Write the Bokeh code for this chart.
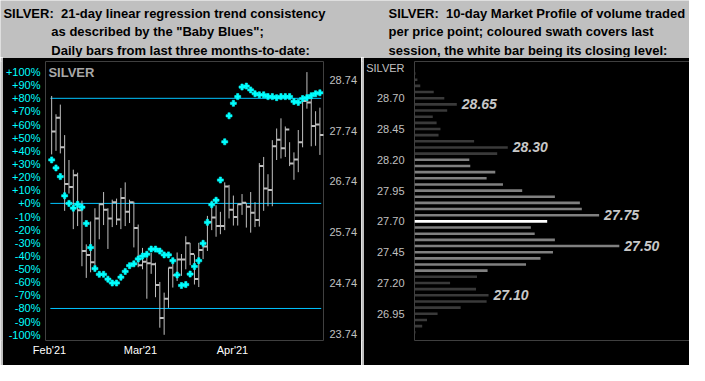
from bokeh.plotting import figure
from bokeh.layouts import column, row
from bokeh.models import Range1d, LinearAxis, FixedTicker, Label, ColumnDataSource
from bokeh.core.properties import value
from bokeh.embed import file_html
from bokeh.resources import INLINE

# ---------------- data ----------------
highs = [28.42, 28.06, 28.25, 27.65, 27.16, 26.97, 26.91, 26.36, 25.50, 25.95, 26.21, 26.30, 26.53, 26.21,
         26.38, 26.40, 26.61, 26.72, 26.38, 26.34, 25.89, 25.43, 25.24, 25.33, 25.14, 24.76, 24.55, 25.04,
         25.12, 25.34, 25.31, 25.66, 25.53, 25.30, 25.53, 25.57, 26.06, 26.36, 26.27, 26.14, 26.72, 26.67,
         26.46, 26.29, 26.49, 26.32, 26.53, 26.33, 27.10, 27.22, 26.88, 27.55, 27.78, 27.98, 27.82, 27.51,
         27.31, 27.75, 28.42, 28.89, 28.36, 28.12, 28.19]
lows = [27.27, 27.34, 27.29, 26.16, 26.50, 25.80, 25.86, 25.07, 24.84, 24.95, 25.09, 25.60, 25.88, 25.41,
        25.84, 25.88, 25.80, 25.86, 25.92, 25.44, 25.05, 25.01, 24.43, 24.92, 24.46, 23.86, 23.72, 24.25,
        24.65, 24.78, 24.88, 25.01, 25.09, 24.71, 24.66, 25.21, 25.37, 25.78, 25.65, 25.70, 25.78, 26.01,
        25.87, 25.87, 26.08, 25.83, 25.73, 25.84, 25.85, 26.16, 26.25, 26.25, 27.16, 27.19, 27.22, 27.04,
        26.77, 26.92, 27.41, 28.17, 27.43, 27.44, 27.26]
closes = [27.72, 27.99, 27.41, 26.69, 26.63, 26.86, 26.17, 25.37, 25.29, 25.15, 26.01, 26.29, 26.18, 26.01,
          26.33, 25.99, 26.41, 26.14, 26.33, 25.82, 25.09, 25.16, 25.13, 25.11, 24.70, 24.05, 24.43, 25.04,
          24.89, 25.20, 25.20, 25.52, 25.31, 24.82, 25.39, 25.46, 25.94, 26.03, 25.86, 25.86, 26.64, 26.18,
          26.04, 26.29, 26.32, 26.24, 26.12, 25.98, 27.04, 26.60, 26.57, 27.43, 27.56, 27.39, 27.76, 27.09,
          27.17, 27.51, 28.32, 28.29, 27.83, 27.86, 27.65]
consistency = [33.1, 27.0, 20.4, 5.8, 0.0, -3.6, -0.7, -2.9, -15.3, -33.6, -49.6, -54.0, -54.0, -57.7,
               -60.6, -60.6, -56.2, -51.8, -47.4, -46.0, -42.3, -40.1, -38.7, -34.8, -34.8, -36.3, -39.2,
               -39.2, -43.6, -54.5, -62.5, -61.8, -53.8, -48.0, -43.6, -30.4, -14.4, -1.0, 2.4, 17.8, 46.9,
               66.7, 76.2, 81.3, 88.6, 89.3, 86.4, 83.5, 82.7, 82.7, 81.3, 81.3, 80.5, 81.3, 81.3, 81.3,
               77.6, 76.9, 79.8, 80.5, 82.0, 83.5, 84.2]
level_lines = [80, 0, -80]

pct_ticks = [100, 90, 80, 70, 60, 50, 40, 30, 20, 10, 0, -10, -20, -30, -40, -50, -60, -70, -80, -90, -100]
pct_labels = ["+100%", "+90%", "+80%", "+70%", "+60%", "+50%", "+40%", "+30%", "+20%", "+10%", "+0%",
              "-10%", "-20%", "-30%", "-40%", "-50%", "-60%", "-70%", "-80%", "-90%", "-100%"]
price_ticks = [28.74, 27.74, 26.74, 25.74, 24.74, 23.74]
price_labels = ["28.74", "27.74", "26.74", "25.74", "24.74", "23.74"]
month_pos = [-0.5, 20.5, 41.8]
month_labels = ["Feb'21", "Mar'21", "Apr'21"]

prof_prices = [28.90, 28.85, 28.80, 28.75, 28.70, 28.65, 28.60, 28.55, 28.50, 28.45, 28.40, 28.35, 28.30,
               28.25, 28.20, 28.15, 28.10, 28.05, 28.00, 27.95, 27.90, 27.85, 27.80, 27.75, 27.70, 27.65,
               27.60, 27.55, 27.50, 27.45, 27.40, 27.35, 27.30, 27.25, 27.20, 27.15, 27.10, 27.05, 27.00,
               26.95, 26.90, 26.85, 26.80]
prof_volume = [1, 3, 6, 20, 31, 44, 34, 19, 23, 27, 25, 62, 97, 86, 57, 58, 84, 75, 92, 112, 146, 172, 174,
               192, 138, 121, 125, 146, 213, 144, 131, 116, 76, 65, 37, 64, 77, 75, 48, 24, 13, 8, 1]
session_high = 28.20
session_low = 27.30
close_level = 27.70
peak_prices = [28.65, 28.30, 27.75, 27.50, 27.10]
peak_labels = ["28.65", "28.30", "27.75", "27.50", "27.10"]
prof_ticks = [28.949, 28.70, 28.45, 28.20, 27.95, 27.70, 27.45, 27.20, 26.95]
prof_tick_labels = ["SILVER", "28.70", "28.45", "28.20", "27.95", "27.70", "27.45", "27.20", "26.95"]

title_left = ["SILVER:\u00a0 21-day linear regression trend consistency",
              "as described by the \"Baby Blues\";",
              "Daily bars from last three months-to-date:"]
title_right = ["SILVER:\u00a0 10-day Market Profile of volume traded",
               "per price point; coloured swath covers last",
               "session, the white bar being its closing level:"]

# ---------------- styles ----------------
FONT = "Liberation Sans"
GRAY = "#c0c0c0"
BAR = "#c0c0c0"
CYAN = "#00ffff"
LINE_BLUE = "#00c4ff"
DARK = "#3a3a3a"
MID = "#808080"


def bare(w, h, **kw):
    p = figure(width=w, height=h, output_backend="svg", toolbar_location=None,
               x_axis_location=None, y_axis_location=None, min_border=0, **kw)
    p.grid.visible = False
    p.outline_line_color = None
    return p


def style_axis(ax, color, standoff, size="11px"):
    ax.axis_line_color = None
    ax.major_tick_line_color = None
    ax.minor_tick_line_color = None
    ax.major_tick_out = 0
    ax.major_tick_in = 0
    ax.minor_tick_out = 0
    ax.major_label_text_color = color
    ax.major_label_text_font = FONT
    ax.major_label_text_font_size = size
    ax.major_label_standoff = standoff


# ---------------- title strip ----------------
title = bare(689, 57, x_range=Range1d(0, 705), y_range=Range1d(60, 0))
title.background_fill_color = GRAY
title.border_fill_color = GRAY
title.text(x=[3, 52, 52], y=[13.5, 33, 52.5], text=title_left, text_font=value(FONT),
           text_font_style="bold", text_font_size="13px", text_color="black", text_baseline="alphabetic")
title.text(x=[397, 397, 397], y=[13.5, 33, 52.5], text=title_right, text_font=value(FONT),
           text_font_style="bold", text_font_size="13px", text_color="black", text_baseline="alphabetic")

# ---------------- left chart ----------------
n = len(highs)
idx = list(range(n))
left = bare(359, 308, x_range=Range1d(-1.425, 62.83), y_range=Range1d(23.608, 29.0985))
left.extra_y_ranges = {"pct": Range1d(-104.38, 108.03)}
left.background_fill_color = "black"
left.border_fill_color = "black"
left.min_border_left = 43
left.min_border_right = 38
left.min_border_top = 4
left.min_border_bottom = 25

pax = LinearAxis(y_range_name="pct", ticker=FixedTicker(ticks=pct_ticks),
                 major_label_overrides=dict(zip(pct_ticks, pct_labels)))
style_axis(pax, CYAN, 5)
left.add_layout(pax, "left")

rax = LinearAxis(ticker=FixedTicker(ticks=price_ticks),
                 major_label_overrides=dict(zip(price_ticks, price_labels)))
style_axis(rax, GRAY, 6)
left.add_layout(rax, "right")

bax = LinearAxis(ticker=FixedTicker(ticks=month_pos),
                 major_label_overrides=dict(zip(month_pos, month_labels)))
style_axis(bax, "white", 3)
left.add_layout(bax, "below")

left.segment(x0=[-0.3] * len(level_lines), x1=[n - 0.7] * len(level_lines), y0=level_lines, y1=level_lines,
             y_range_name="pct", line_color=LINE_BLUE, line_width=1)

src = ColumnDataSource(dict(x=idx, high=highs, low=lows, close=closes, pct=consistency))
left.segment(x0="x", y0="low", x1="x", y1="high", source=src, line_color=BAR, line_width=1)
left.ray(x="x", y="close", length=4, length_units="screen", angle=0, source=src, line_color=BAR, line_width=2)
left.scatter(x="x", y="pct", source=src, marker="plus", size=6, fill_color=CYAN, line_color=CYAN,
             line_width=0.6, y_range_name="pct")

left.add_layout(Label(x=-0.75, y=99.3, y_range_name="pct", text="SILVER", text_font=FONT,
                      text_font_style="bold", text_font_size="13px", text_color="#a8a8a8",
                      text_baseline="middle", text_align="left"))

# ---------------- right chart ----------------
right = bare(326, 308, x_range=Range1d(0, 286), y_range=Range1d(26.733, 28.998))
right.background_fill_color = "black"
right.border_fill_color = "black"
right.min_border_left = 47
right.min_border_right = 0
right.min_border_top = 2
right.min_border_bottom = 0

yax = LinearAxis(ticker=FixedTicker(ticks=prof_ticks),
                 major_label_overrides=dict(zip(prof_ticks, prof_tick_labels)))
style_axis(yax, GRAY, 10)
right.add_layout(yax, "left")

colors = []
for pr in prof_prices:
    if abs(pr - close_level) < 1e-6:
        colors.append("white")
    elif session_low - 1e-6 <= pr <= session_high + 1e-6:
        colors.append(MID)
    else:
        colors.append(DARK)
right.hbar(y=prof_prices, left=0, right=prof_volume, height=0.021, fill_color=colors, line_color=None)

vol_at = dict(zip(prof_prices, prof_volume))
right.text(x=[vol_at[pp] for pp in peak_prices], y=peak_prices, text=peak_labels, x_offset=5,
           text_font=value(FONT), text_font_style="bold italic", text_font_size="14px",
           text_color="#c8c8c8", text_baseline="middle", text_align="left")


# ---------------- separators ----------------
def strip(w, h):
    s = bare(w, h, x_range=Range1d(0, 1), y_range=Range1d(0, 1))
    s.background_fill_color = GRAY
    s.border_fill_color = GRAY
    return s


layout = column(title, row(strip(2, 308), left, strip(2, 308), right))

with open("out.html", "w") as f:
    f.write(file_html(layout, INLINE))
